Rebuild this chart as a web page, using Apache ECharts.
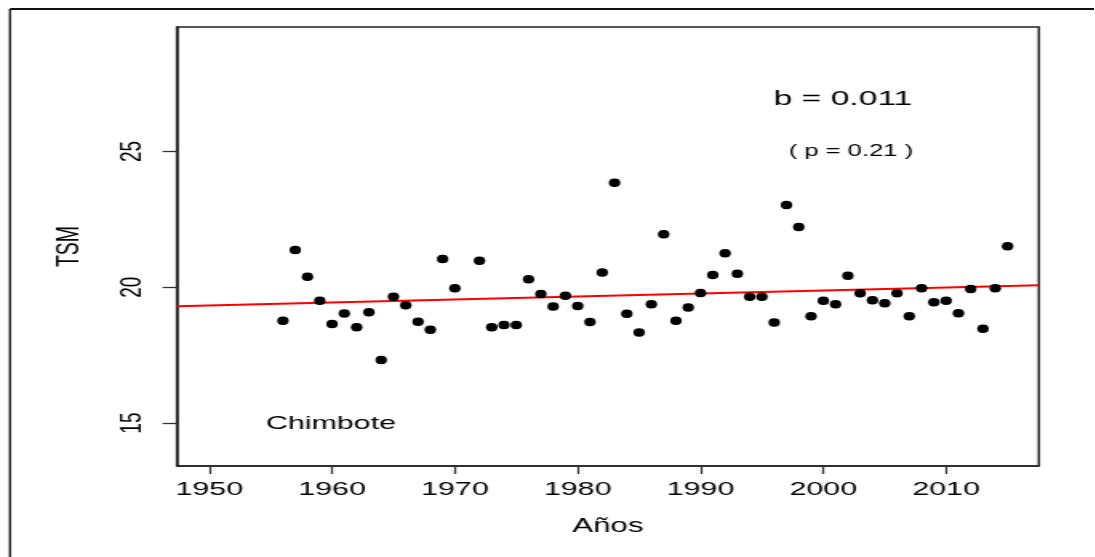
<!DOCTYPE html>
<html>
<head>
<meta charset="utf-8">
<script src="https://cdn.jsdelivr.net/npm/echarts@6/dist/echarts.min.js"></script>
<style>
html,body{margin:0;padding:0;background:#fff;overflow:hidden;}
#c{width:684.375px;height:557px;transform:scaleX(1.6);transform-origin:0 0;}
</style>
</head>
<body>
<div id="c"></div>
<script>
// ---- data ----
const years = [1956,1957,1958,1959,1960,1961,1962,1963,1964,1965,1966,1967,1968,1969,1970,
  1972,1973,1974,1975,1976,1977,1978,1979,1980,1981,1982,1983,1984,1985,1986,1987,1988,1989,
  1990,1991,1992,1993,1994,1995,1996,1997,1998,1999,2000,2001,2002,2003,2004,2005,2006,2007,
  2008,2009,2010,2011,2012,2013,2014,2015];
const tsm = [18.77,21.37,20.39,19.50,18.65,19.03,18.53,19.08,17.32,19.65,19.34,18.73,18.44,21.04,19.96,
  20.98,18.53,18.61,18.61,20.29,19.75,19.29,19.69,19.31,18.72,20.54,23.85,19.02,18.33,19.37,21.95,18.77,19.25,
  19.79,20.45,21.25,20.50,19.65,19.65,18.70,23.03,22.22,18.93,19.50,19.37,20.42,19.78,19.52,19.41,19.78,18.93,
  19.96,19.45,19.50,19.04,19.94,18.47,19.96,21.51];
const xTicks = [1950,1960,1970,1980,1990,2000,2010];
const yTicks = [15,20,25];
const trendSlope = 0.011;      // b
const trendAt1950 = 19.33;     // fitted value at 1950
const stationName = 'Chimbote';
const slopeText = 'b = 0.011';
const pText = '( p = 0.21 )';

// ---- layout ----
const S = 1.6; // horizontal stretch of the original figure
const XMIN = 1947.37, XMAX = 2017.55, YMIN = 13.42, YMAX = 29.58;
const FONT = "'Liberation Sans', Arial, sans-serif";
const INK = '#000';

const points = years.map((y, i) => [y, tsm[i]]);
const trend = [XMIN, XMAX].map(x => [x, trendAt1950 + trendSlope * (x - 1950)]);

const chart = echarts.init(document.getElementById('c'), null, {renderer: 'canvas'});
chart.setOption({
  animation: false,
  backgroundColor: '#fff',
  textStyle: {fontFamily: FONT},
  grid: {left: 177 / S, right: 684.375 - 1039.5 / S, top: 27, bottom: 91,
         show: true, borderColor: '#222', borderWidth: 1.5, containLabel: false},
  xAxis: {
    type: 'value', min: XMIN, max: XMAX,
    axisLine: {show: true, onZero: false, lineStyle: {color: '#222', width: 1.5}},
    axisTick: {show: true, length: 8, customValues: xTicks, lineStyle: {color: '#333', width: 1.3}},
    axisLabel: {customValues: xTicks, formatter: v => String(v), fontSize: 19, color: INK, margin: 14, fontFamily: FONT},
    splitLine: {show: false},
    name: 'Años', nameLocation: 'middle', nameGap: 51,
    nameTextStyle: {fontSize: 19.5, color: INK, fontFamily: FONT}
  },
  yAxis: {
    type: 'value', min: YMIN, max: YMAX,
    axisLine: {show: true, onZero: false, lineStyle: {color: '#222', width: 1.5}},
    axisTick: {show: true, length: 9, customValues: yTicks, lineStyle: {color: '#333', width: 1.3}},
    axisLabel: {customValues: yTicks, formatter: v => String(v), rotate: 90, fontSize: 19, color: INK, margin: 18, fontFamily: FONT},
    splitLine: {show: false},
    name: 'TSM', nameLocation: 'middle', nameGap: 57,
    nameTextStyle: {fontSize: 19.5, color: INK, fontFamily: FONT}
  },
  series: [
    {type: 'line', data: trend, symbol: 'none', lineStyle: {color: '#ff0000', width: 2}, z: 2, silent: true},
    {type: 'scatter', data: points, symbol: 'circle', symbolSize: [7.2, 8.5],
     itemStyle: {color: '#000', opacity: 1}, z: 3}
  ],
  graphic: [
    {type: 'line', shape: {x1: 10 / S, y1: 9, x2: 720, y2: 9}, style: {stroke: '#111', lineWidth: 2}},
    {type: 'line', shape: {x1: 10 / S, y1: 9, x2: 10 / S, y2: 600}, style: {stroke: '#111', lineWidth: 1.3}},
    {type: 'text', x: 843 / S, y: 99, style: {text: slopeText, fontSize: 21, fontFamily: FONT, fill: INK, align: 'center', verticalAlign: 'middle'}},
    {type: 'text', x: 851 / S, y: 152, style: {text: pText, fontSize: 16, fontFamily: FONT, fill: INK, align: 'center', verticalAlign: 'middle'}},
    {type: 'text', x: 331 / S, y: 424, style: {text: stationName, fontSize: 19, fontFamily: FONT, fill: INK, align: 'center', verticalAlign: 'middle'}}
  ]
});
</script>
</body>
</html>
